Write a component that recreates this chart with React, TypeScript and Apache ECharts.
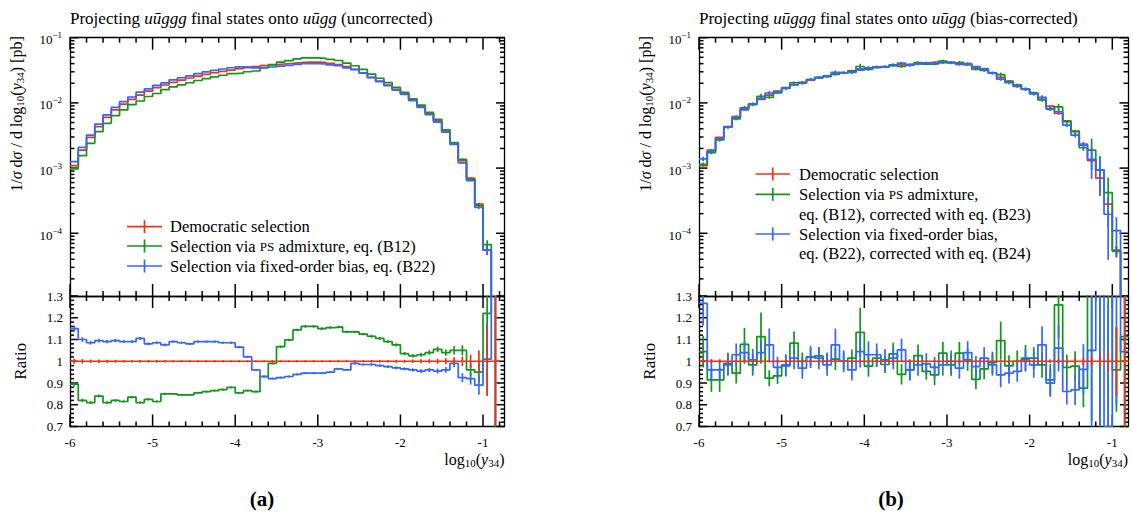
import React, { useEffect, useRef } from "react";
import * as echarts from "echarts";

const FONT = "Liberation Serif";
const RED = "#EE3311";
const GREEN = "#109618";
const BLUE = "#3366FF";

// bin edges of log10(y34)
const binEdges = [
  -6.0, -5.9, -5.8, -5.7, -5.6, -5.5, -5.4, -5.3, -5.2, -5.1, -5.0, -4.9, -4.8, -4.7, -4.6, -4.5, -4.4, -4.3,
  -4.2, -4.1, -4.0, -3.9, -3.8, -3.7, -3.6, -3.5, -3.4, -3.3, -3.2, -3.1, -3.0, -2.9, -2.8, -2.7, -2.6, -2.5,
  -2.4, -2.3, -2.2, -2.1, -2.0, -1.9, -1.8, -1.7, -1.6, -1.5, -1.4, -1.3, -1.2, -1.1, -1.0, -0.9, -0.8,
];

// democratic selection, 1/sigma dsigma/dlog10(y34) [pb]
const democratic = [
  1.09e-3, 1.89e-3, 2.96e-3, 4.31e-3, 6.0e-3, 7.8e-3, 9.6e-3, 1.13e-2, 1.32e-2, 1.52e-2,
  1.71e-2, 1.88e-2, 2.07e-2, 2.24e-2, 2.41e-2, 2.58e-2, 2.74e-2, 2.9e-2, 3.05e-2, 3.19e-2,
  3.35e-2, 3.47e-2, 3.59e-2, 3.72e-2, 3.86e-2, 3.95e-2, 4.04e-2, 4.14e-2, 4.23e-2, 4.23e-2,
  4.18e-2, 4.04e-2, 3.86e-2, 3.59e-2, 3.27e-2, 2.9e-2, 2.47e-2, 2.16e-2, 1.88e-2, 1.61e-2,
  1.4e-2, 1.13e-2, 8.95e-3, 6.9e-3, 5.3e-3, 3.7e-3, 2.34e-3, 1.3e-3, 7.0e-4, 2.8e-4,
  5.5e-5, 3e-6,
];

// ratios to democratic selection, panel (a)
const psRatioUncorr = [
  0.895, 0.82, 0.81, 0.84, 0.81, 0.82, 0.815, 0.835, 0.81, 0.825,
  0.815, 0.85, 0.85, 0.845, 0.845, 0.855, 0.86, 0.865, 0.87, 0.88,
  0.855, 0.865, 0.86, 0.93, 0.99, 1.067, 1.098, 1.144, 1.16, 1.16,
  1.15, 1.155, 1.158, 1.135, 1.135, 1.125, 1.115, 1.105, 1.09, 1.075,
  1.035, 1.025, 1.03, 1.04, 1.055, 1.04, 1.05, 1.05, 0.96, 0.95,
  1.22, 1.5,
];
const foRatioUncorr = [
  1.15, 1.1, 1.085, 1.095, 1.09, 1.095, 1.09, 1.09, 1.105, 1.08,
  1.085, 1.075, 1.09, 1.085, 1.08, 1.09, 1.09, 1.09, 1.085, 1.085,
  1.065, 1.02, 0.96, 0.93, 0.92, 0.925, 0.93, 0.94, 0.945, 0.945,
  0.945, 0.95, 0.965, 0.96, 0.99, 0.985, 0.985, 0.98, 0.975, 0.97,
  0.965, 0.96, 0.955, 0.96, 0.955, 0.96, 0.99, 0.925, 0.92, 0.89,
  1.01, 1.6,
];
// ratios to democratic selection, panel (b)
const psRatioCorr = [
  1.044, 0.914, 0.914, 0.99, 0.945, 1.078, 0.983, 1.113, 0.922, 0.933,
  0.979, 1.083, 1.0, 1.02, 1.025, 1.0, 1.01, 1.0, 1.014, 1.133,
  0.978, 1.014, 0.985, 1.034, 0.94, 0.96, 1.026, 0.953, 0.937, 1.037,
  0.983, 1.037, 1.006, 0.917, 0.965, 0.994, 1.095, 0.979, 1.0, 1.014,
  1.014, 0.983, 0.914, 1.259, 0.972, 0.978, 0.876, 1.45, 1.34, 1.5,
  0.96, 1.113,
];
const foRatioCorr = [
  1.266, 0.96, 0.96, 0.983, 1.03, 1.04, 1.006, 1.04, 1.075, 0.972,
  0.983, 1.014, 0.968, 1.02, 1.014, 0.983, 1.075, 1.0, 0.96, 1.044,
  1.03, 1.03, 1.006, 1.014, 1.052, 0.96, 0.983, 0.988, 0.972, 0.983,
  1.0, 0.968, 1.04, 0.975, 1.014, 0.983, 0.937, 0.945, 0.953, 1.006,
  0.983, 1.075, 0.899, 1.06, 0.861, 0.868, 0.963, 1.05, 1.34, 0.7,
  2.0, 1.044,
];

// relative statistical uncertainties
const errStat = [
  0.012, 0.01, 0.008, 0.008, 0.007, 0.007, 0.006, 0.006, 0.006, 0.006,
  0.006, 0.006, 0.005, 0.005, 0.005, 0.005, 0.005, 0.005, 0.005, 0.005,
  0.005, 0.005, 0.005, 0.005, 0.005, 0.005, 0.005, 0.005, 0.005, 0.005,
  0.005, 0.005, 0.005, 0.005, 0.005, 0.005, 0.006, 0.006, 0.006, 0.007,
  0.007, 0.008, 0.009, 0.01, 0.012, 0.014, 0.018, 0.022, 0.03, 0.05,
  0.16, 0.9,
];
const errPsCorr = [
  0.07, 0.06, 0.06, 0.05, 0.05, 0.07, 0.05, 0.1, 0.04, 0.04,
  0.05, 0.05, 0.04, 0.04, 0.04, 0.04, 0.05, 0.04, 0.04, 0.1,
  0.05, 0.04, 0.04, 0.05, 0.05, 0.05, 0.05, 0.04, 0.05, 0.05,
  0.05, 0.05, 0.05, 0.05, 0.05, 0.05, 0.08, 0.05, 0.05, 0.06,
  0.05, 0.06, 0.08, 0.12, 0.06, 0.07, 0.1, 0.5, 0.6, 0.7,
  0.2, 0.4,
];
const errFoCorr = [
  0.08, 0.05, 0.05, 0.05, 0.05, 0.05, 0.05, 0.05, 0.07, 0.05,
  0.05, 0.05, 0.05, 0.05, 0.05, 0.05, 0.07, 0.05, 0.05, 0.07,
  0.06, 0.05, 0.05, 0.05, 0.05, 0.05, 0.05, 0.05, 0.05, 0.05,
  0.05, 0.05, 0.05, 0.05, 0.05, 0.05, 0.06, 0.05, 0.05, 0.05,
  0.06, 0.08, 0.07, 0.1, 0.07, 0.08, 0.12, 0.5, 0.6, 0.8,
  0.6, 0.3,
];

const xMajorTicks = [-6, -5, -4, -3, -2, -1];
const yMainTicks = [-4, -3, -2, -1];
const yRatioTicks = [0.7, 0.8, 0.9, 1.0, 1.1, 1.2, 1.3];

const TOP = 37.7;
const MAIN_H = 258.3;
const RATIO_H = 130.5;
const MAIN_MIN = -4.962;
const MAIN_MAX = -1;

const panels = [
  {
    left: 70, width: 434.5, xmax: -0.74,
    ps: psRatioUncorr, fo: foRatioUncorr, errPs: errStat, errFo: errStat,
    title: "Projecting {i|uūggg} final states onto {i|uūgg} (uncorrected)",
  },
  {
    left: 699, width: 429, xmax: -0.81,
    ps: psRatioCorr, fo: foRatioCorr, errPs: errPsCorr, errFo: errFoCorr,
    title: "Projecting {i|uūggg} final states onto {i|uūgg} (bias-corrected)",
  },
];

const LW = 1.7;
const TICK_W = 1.5;
const L10 = (v: number) => Math.log10(Math.max(v, 1e-12));

function stepPoints(vals: number[]) {
  const pts: number[][] = vals.map((v, i) => [binEdges[i], v]);
  pts.push([binEdges[vals.length], vals[vals.length - 1]]);
  return pts;
}
const centers = binEdges.slice(0, -1).map((e, i) => (e + binEdges[i + 1]) / 2);

function lineSeries(ai: number, vals: number[], color: string, z: number) {
  return {
    type: "line",
    xAxisIndex: ai,
    yAxisIndex: ai,
    data: stepPoints(vals),
    step: "end",
    symbol: "none",
    showSymbol: false,
    clip: true,
    silent: true,
    z,
    lineStyle: { color, width: LW },
    itemStyle: { color },
  };
}

function errSeries(ai: number, lo: number[], hi: number[], color: string, z: number) {
  return {
    type: "custom",
    xAxisIndex: ai,
    yAxisIndex: ai,
    silent: true,
    z,
    encode: { x: 0, y: [1, 2] },
    data: centers.map((c, i) => [c, lo[i], hi[i]]),
    renderItem: (params: any, api: any) => {
      const cs = params.coordSys;
      const a = api.coord([api.value(0), api.value(1)]);
      const b = api.coord([api.value(0), api.value(2)]);
      const x = a[0];
      if (x < cs.x || x > cs.x + cs.width) return null;
      const cl = (y: number) => Math.min(Math.max(y, cs.y), cs.y + cs.height);
      return {
        type: "line",
        shape: { x1: x, y1: cl(a[1]), x2: x, y2: cl(b[1]) },
        style: { stroke: color, lineWidth: LW },
      };
    },
  };
}

const axisLineStyle = { color: "#000", width: 1.3 };

function xAxisDef(gridIndex: number, xmax: number, position: string, labels: boolean) {
  return {
    type: "value",
    gridIndex,
    min: -6,
    max: xmax,
    position,
    axisLine: { show: true, onZero: false, lineStyle: axisLineStyle },
    axisTick: { show: false },
    axisLabel: labels
      ? {
          show: true,
          customValues: xMajorTicks,
          formatter: (v: number) => String(Math.round(v)),
          margin: 9,
          fontFamily: FONT,
          fontSize: 13,
          color: "#000",
        }
      : { show: false },
    splitLine: { show: false },
  };
}

function yAxisDef(gridIndex: number, min: number, max: number, position: string, label: any) {
  return {
    type: "value",
    gridIndex,
    min,
    max,
    position,
    axisLine: { show: true, onZero: false, lineStyle: axisLineStyle },
    axisTick: { show: false },
    axisLabel: label || { show: false },
    splitLine: { show: false },
  };
}

function buildOption() {
  const grids: any[] = [];
  const xAxes: any[] = [];
  const yAxes: any[] = [];
  const series: any[] = [];
  const elements: any[] = [];

  const mainMinor: number[] = [];
  for (let n = -5; n <= -2; n++) {
    for (let k = 2; k <= 9; k++) {
      const v = n + Math.log10(k);
      if (v > MAIN_MIN && v < MAIN_MAX) mainMinor.push(v);
    }
  }
  const ratioMinor: number[] = [];
  for (let j = 36; j <= 64; j++) {
    if (j % 5 !== 0) ratioMinor.push(j / 50);
  }

  const mainLabel = {
    show: true,
    customValues: yMainTicks,
    margin: 8,
    formatter: (v: number) => `{b|10}{s|−${Math.round(-v)}}`,
    rich: {
      b: { fontFamily: FONT, fontSize: 13, color: "#000", padding: [4, 0, 0, 0] },
      s: { fontFamily: FONT, fontSize: 9, color: "#000", padding: [0, 0, 5, 0] },
    },
  };
  const ratioLabel = {
    show: true,
    customValues: yRatioTicks,
    margin: 7,
    fontFamily: FONT,
    fontSize: 13,
    color: "#000",
    formatter: (v: number) => String(Math.round(v * 10) / 10),
  };

  const tick = (x1: number, y1: number, x2: number, y2: number) =>
    elements.push({
      type: "line",
      shape: { x1, y1, x2, y2 },
      style: { stroke: "#000", lineWidth: TICK_W },
    });

  panels.forEach((p, pi) => {
    const xMinor: number[] = [];
    for (let j = 1; j <= 30; j++) {
      const v = Math.round((-6 + 0.2 * j) * 10) / 10;
      if (Math.abs(v - Math.round(v)) > 1e-6 && v <= p.xmax + 1e-9) xMinor.push(v);
    }
    const xMaj = xMajorTicks.filter((v) => v <= p.xmax);
    [0, 1].forEach((r) => {
      const g = pi * 2 + r;
      const top = r === 0 ? TOP : TOP + MAIN_H;
      const height = r === 0 ? MAIN_H : RATIO_H;
      grids.push({ left: p.left, top, width: p.width, height, containLabel: false });
      xAxes.push(xAxisDef(g, p.xmax, "bottom", r === 1));
      xAxes.push(xAxisDef(g, p.xmax, "top", false));
      const ymin = r === 0 ? MAIN_MIN : 0.7;
      const ymax = r === 0 ? MAIN_MAX : 1.3;
      yAxes.push(yAxisDef(g, ymin, ymax, "left", r === 0 ? mainLabel : ratioLabel));
      yAxes.push(yAxisDef(g, ymin, ymax, "right", null));

      // frame tick marks (same linear mapping as the value axes of this grid)
      const L = p.left, R = p.left + p.width, T = top, B = top + height;
      const sx = (v: number) => L + ((v + 6) / (p.xmax + 6)) * p.width;
      const sy = (v: number) => T + ((ymax - v) / (ymax - ymin)) * height;
      const xs = (vals: number[], len: number) =>
        vals.forEach((v) => {
          const x = sx(v);
          tick(x, B, x, B - len);
          tick(x, T, x, T + len);
        });
      const ys = (vals: number[], len: number) =>
        vals.forEach((v) => {
          const y = sy(v);
          tick(L, y, L + len, y);
          tick(R, y, R - len, y);
        });
      xs(xMaj, 12);
      xs(xMinor, 5);
      if (r === 0) {
        ys(yMainTicks, 8.5);
        ys(mainMinor, 4.5);
      } else {
        ys(yRatioTicks, 8);
        ys(ratioMinor, 4);
      }
    });

    const mi = pi * 2 * 2;
    const ri = (pi * 2 + 1) * 2;
    const psMain = democratic.map((d, i) => d * p.ps[i]);
    const foMain = democratic.map((d, i) => d * p.fo[i]);
    const mainSets = [
      { vals: democratic, err: errStat, color: RED },
      { vals: psMain, err: p.errPs, color: GREEN },
      { vals: foMain, err: p.errFo, color: BLUE },
    ];
    mainSets.forEach((s, k) => {
      series.push(lineSeries(mi, s.vals.map(L10), s.color, 2 + k));
      series.push(
        errSeries(
          mi,
          s.vals.map((v, i) => L10(v * (1 - s.err[i]))),
          s.vals.map((v, i) => L10(v * (1 + s.err[i]))),
          s.color,
          2 + k
        )
      );
    });
    const redRatio = democratic.map((d) => d / d);
    const ratioSets = [
      { vals: p.ps, err: p.errPs, color: GREEN },
      { vals: p.fo, err: p.errFo, color: BLUE },
      { vals: redRatio, err: errStat, color: RED },
    ];
    ratioSets.forEach((s, k) => {
      series.push(lineSeries(ri, s.vals, s.color, 2 + k));
      series.push(
        errSeries(
          ri,
          s.vals.map((v, i) => v - s.err[i] * v),
          s.vals.map((v, i) => v + s.err[i] * v),
          s.color,
          2 + k
        )
      );
    });
  });

  const Tx = (extra: any) => ({ fill: "#000", fontFamily: FONT, ...extra });
  const mkRich = (fs: number) => ({
    i: { fontFamily: FONT, fontSize: fs, fontStyle: "italic", fill: "#000" },
    sub: { fontFamily: FONT, fontSize: Math.round(fs * 0.68), fill: "#000", padding: [7, 0, 0, 0] },
    sc: { fontFamily: FONT, fontSize: Math.round(fs * 0.76), fill: "#000" },
  });

  panels.forEach((p, pi) => {
    const right = p.left + p.width;
    elements.push({
      type: "text",
      x: p.left,
      y: 18,
      style: Tx({ text: p.title, fontSize: 17, textAlign: "left", textVerticalAlign: "middle", rich: mkRich(17) }),
    });
    elements.push({
      type: "text",
      x: p.left - 54,
      y: 114,
      rotation: Math.PI / 2,
      style: Tx({
        text: "1/{i|σ} d{i|σ} / d log{sub|10}({i|y}{sub|34}) [pb]",
        fontSize: 16,
        textAlign: "center",
        textVerticalAlign: "middle",
        rich: mkRich(16),
      }),
    });
    elements.push({
      type: "text",
      x: p.left - 50,
      y: TOP + MAIN_H + RATIO_H / 2,
      rotation: Math.PI / 2,
      style: Tx({ text: "Ratio", fontSize: 17, textAlign: "center", textVerticalAlign: "middle" }),
    });
    elements.push({
      type: "text",
      x: right,
      y: 459,
      style: Tx({
        text: "log{sub|10}({i|y}{sub|34})",
        fontSize: 16,
        textAlign: "right",
        textVerticalAlign: "middle",
        rich: mkRich(16),
      }),
    });
    elements.push({
      type: "text",
      x: pi === 0 ? 262 : 891,
      y: 499,
      style: Tx({
        text: pi === 0 ? "(a)" : "(b)",
        fontSize: 21,
        fontWeight: "bold",
        textAlign: "center",
        textVerticalAlign: "middle",
      }),
    });
  });

  const legendL = [
    { y: 226.7, color: RED, text: "Democratic selection" },
    { y: 246, color: GREEN, text: "Selection via {sc|PS} admixture, eq. (B12)" },
    { y: 266, color: BLUE, text: "Selection via fixed-order bias, eq. (B22)" },
  ];
  const legendR = [
    { y: 174, color: RED, text: "Democratic selection" },
    { y: 194.3, color: GREEN, text: "Selection via {sc|PS} admixture," },
    { y: 214.5, color: "", text: "eq. (B12), corrected with eq. (B23)" },
    { y: 234, color: BLUE, text: "Selection via fixed-order bias," },
    { y: 253.5, color: "", text: "eq. (B22), corrected with eq. (B24)" },
  ];
  const addLegend = (items: any[], x1: number, x2: number, tx: number) => {
    items.forEach((it) => {
      if (it.color) {
        elements.push({
          type: "line",
          shape: { x1, y1: it.y, x2, y2: it.y },
          style: { stroke: it.color, lineWidth: LW },
        });
        const xc = (x1 + x2) / 2;
        elements.push({
          type: "line",
          shape: { x1: xc, y1: it.y - 6.5, x2: xc, y2: it.y + 6.5 },
          style: { stroke: it.color, lineWidth: LW },
        });
      }
      elements.push({
        type: "text",
        x: tx,
        y: it.y,
        style: Tx({ text: it.text, fontSize: 16.5, textAlign: "left", textVerticalAlign: "middle", rich: mkRich(16.5) }),
      });
    });
  };
  addLegend(legendL, 127, 162, 170);
  addLegend(legendR, 755.5, 790, 799);

  return {
    animation: false,
    backgroundColor: "#fff",
    grid: grids,
    xAxis: xAxes,
    yAxis: yAxes,
    series,
    graphic: { elements },
  };
}

export default function App() {
  const ref = useRef<HTMLDivElement>(null);
  useEffect(() => {
    if (!ref.current) return;
    const chart = echarts.init(ref.current, null, { renderer: "svg" });
    chart.setOption(buildOption() as any);
    return () => chart.dispose();
  }, []);
  return (
    <div
      ref={ref}
      style={{ position: "absolute", left: 0, top: 0, width: 1133, height: 513, background: "#fff" }}
    />
  );
}
